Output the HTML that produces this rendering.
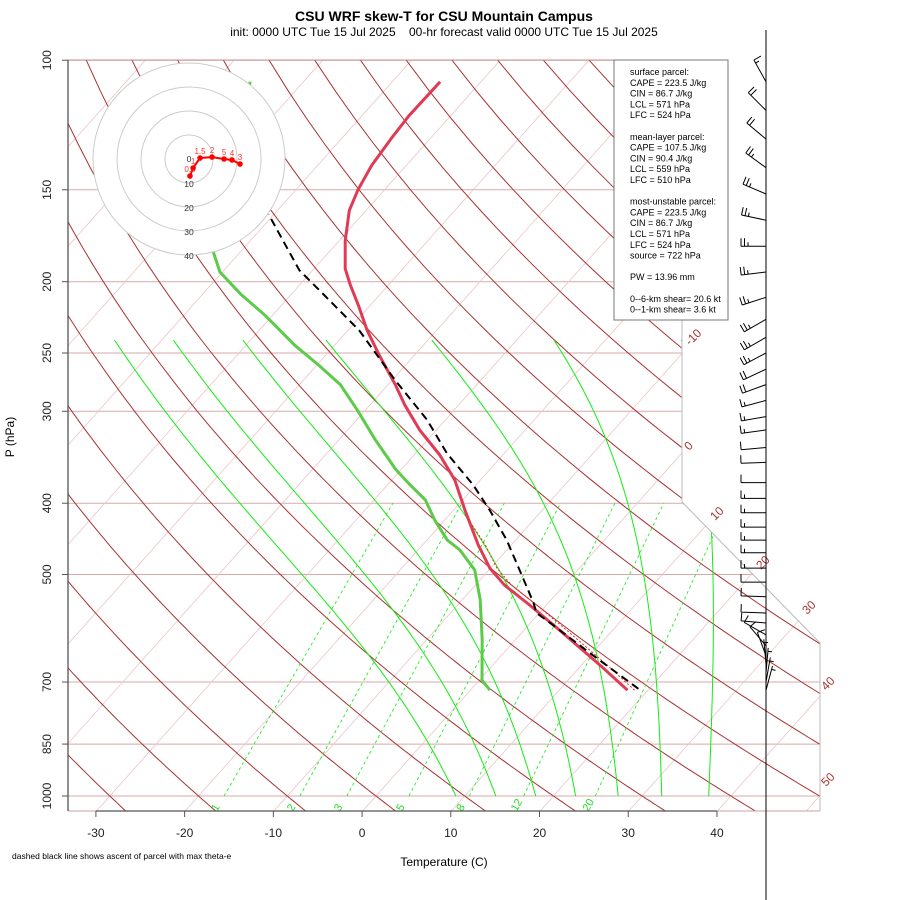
<!DOCTYPE html>
<html><head><meta charset="utf-8"><style>
html,body{margin:0;padding:0;background:#fff;}
svg{display:block;font-family:"Liberation Sans",Arial,sans-serif;}
</style></head><body>
<svg id="chart" width="900" height="900" viewBox="0 0 900 900" xmlns="http://www.w3.org/2000/svg">
<defs><clipPath id="plotclip"><polygon points="68,60 682,60 682,502 820,643 820,811 68,811"/></clipPath></defs>
<rect width="900" height="900" fill="#fff"/>
<text x="444" y="21" text-anchor="middle" font-size="14" font-weight="bold">CSU WRF skew-T for CSU Mountain Campus</text>
<text x="444" y="36" text-anchor="middle" font-size="12" style="white-space:pre" xml:space="preserve">init: 0000 UTC Tue 15 Jul 2025    00-hr forecast valid 0000 UTC Tue 15 Jul 2025</text>
<g id="grid" clip-path="url(#plotclip)"></g>
<g id="profiles" clip-path="url(#plotclip)"></g>
<polyline points="682,60 682,502 820,643 820,811" fill="none" stroke="#bbb" stroke-width="1"/>
<line x1="68" y1="60" x2="682" y2="60" stroke="#c89090" stroke-width="1"/>
<line x1="68" y1="811" x2="820" y2="811" stroke="#c8a0a0" stroke-width="1"/>
<line x1="68" y1="60" x2="68" y2="811" stroke="#555" stroke-width="1.3"/>
<line x1="96" y1="811" x2="717" y2="811" stroke="#555" stroke-width="1.3"/>
<g id="axes"></g>
<g id="hodo"></g>
<g id="isolabels"></g>
<line x1="766" y1="30" x2="766" y2="900" stroke="#000" stroke-width="1"/>
<g id="barbs"></g>
<g>
<rect x="614" y="60" width="114" height="260" fill="#fff" stroke="#777" stroke-width="1"/>
<g id="statstext" font-size="9" fill="#000"></g>
</g>
<text transform="translate(14,437) rotate(-90)" text-anchor="middle" font-size="12">P (hPa)</text>
<text x="444" y="866" text-anchor="middle" font-size="12">Temperature (C)</text>
<text x="12" y="859" font-size="8.5">dashed black line shows ascent of parcel with max theta-e</text>
</svg>
<script>
// ---- data ----
const tempP = [718,664,595,550,517,490,456,409,372,344,318,294,276,252,233,215,202,192,176,160,150,139,128,119,107];
const tempT = [17.7,12.1,4.0,-1.9,-6.7,-10.1,-13.7,-18.7,-22.9,-27.1,-31.9,-36.1,-39.2,-43.9,-47.8,-51.4,-54.3,-56.5,-59.3,-61.9,-63.0,-63.9,-64.4,-64.7,-64.6];
const dewP = [718,696,614,541,493,463,449,422,396,378,360,328,299,276,260,244,222,208,194,182,141,107];
const dewT = [2.2,0.3,-3.7,-8.0,-11.6,-15.3,-17.7,-21.1,-24.2,-27.4,-30.6,-35.9,-40.9,-45.4,-49.7,-54.5,-60.9,-65.7,-70.3,-73.1,-79.4,-86.0];
const parcelP = [715,639,586,564,546,504,449,409,378,342,308,272,233,212,193,162];
const parcelT = [18.8,9.7,2.8,-0.3,-1.7,-5.5,-11.0,-15.9,-20.3,-26.5,-32.1,-39.7,-48.7,-55.1,-61.5,-70.6];
const virtP = [718,664,595,550,517,490,456,420];
const virtT = [18.5,12.9,4.8,-1.1,-5.9,-9.3,-12.9,-17.5];
const windP = [107,117,128,140,152,165,179,194,210,225,238,250,263,276,290,305,318,336,352,375,394,412,431,449,467,490,512,536,564,582,604,625,645,662,680,700,718];
const windDir = [331,315,310,306,293,282,270,263,252,240,240,242,245,250,255,260,262,265,268,270,270,270,270,270,270,270,270,272,272,275,300,320,340,355,5,10,15];
const windSpd = [15,20,20,25,25,25,25,25,25,25,25,25,20,20,15,15,15,10,10,10,15,15,15,15,15,15,10,10,10,10,10,10,10,5,5,5,5];
const hodoU = [0.4,1.7,4.6,9.6,14.6,17.9,21.25];
const hodoV = [-7.1,-3.75,0.4,0.8,0,-0.4,-2.1];
const hodoLabels = ["0.5","1","1.5","2","5","4","3"];
const isobars = [100,150,200,250,300,400,500,700,850,1000];
const xTicks = [-30,-20,-10,0,10,20,30,40];
const mixRatios = [1,2,3,5,8,12,20];
const moistT0 = [9,13.5,18,22.5,27.3,32.2,37.5];
const isoLabelText = ["-10","0","10","20","30","40","50"];
const statsLines = ["surface parcel:","CAPE = 223.5 J/kg","CIN = 86.7 J/kg","LCL = 571 hPa","LFC = 524 hPa","","mean-layer parcel:","CAPE = 107.5 J/kg","CIN = 90.4 J/kg","LCL = 559 hPa","LFC = 510 hPa","","most-unstable parcel:","CAPE = 223.5 J/kg","CIN = 86.7 J/kg","LCL = 571 hPa","LFC = 524 hPa","source = 722 hPa","","PW =  13.96 mm","","0--6-km shear= 20.6 kt","0--1-km shear= 3.6 kt"];

// ---- axis functions ----
const NS="http://www.w3.org/2000/svg";
function ty(p){return 132.182-44.061*Math.log10(p);}
function X(T,p){return 376+(0.54*T+0.90692*ty(p))*16.43;}
function Y(p){return 796-ty(p)*16.70;}
function mk(tag,attrs,parent){const e=document.createElementNS(NS,tag);for(const k in attrs)e.setAttribute(k,attrs[k]);parent.appendChild(e);return e;}
function pts(arrP,arrT){return arrP.map((p,i)=>X(arrT[i],p).toFixed(1)+","+Y(p).toFixed(1)).join(" ");}
const grid=document.getElementById('grid');
isobars.forEach(p=>{const l=mk('line',{x1:68,x2:820,y1:Y(p),y2:Y(p),stroke:'#d9a9a9','stroke-width':1},grid);

});
for(let T=-120;T<=60;T+=10){const l=mk('line',{x1:X(T,1050),y1:Y(1050),x2:X(T,100),y2:Y(100),stroke:'#ebc6c6','stroke-width':0.8},grid);

}
for(let th=-30;th<=190;th+=10){let s=[];for(let p=1050;p>=100;p-=10){const T=(th+273.15)*Math.pow(p/1000,0.288)-273.15;s.push(X(T,p).toFixed(1)+","+Y(p).toFixed(1));}
const l=mk('polyline',{points:s.join(" "),fill:'none',stroke:'#a83232','stroke-width':1},grid);

}
function tdFromW(w,p){const e=w*p/(622+w);const l=Math.log(e/6.112);return 243.5*l/(17.67-l);}
mixRatios.forEach(w=>{const l=mk('line',{x1:X(tdFromW(w,1000),1000),y1:Y(1000),x2:X(tdFromW(w,400),400),y2:Y(400),stroke:'#22ee22','stroke-width':0.9,'stroke-dasharray':'3,3'},grid);


const x=X(tdFromW(w,1000),1000)-7;
const t=mk('text',{x:0,y:0,transform:`translate(${x.toFixed(1)},812) rotate(-60)`,'font-size':11,fill:'#22dd22'},grid);
t.textContent=w;

});
// moist adiabats (empirically damped latent heating to match reference diagram)
moistT0.forEach(t0=>{let T=t0+273.15;let s=[];for(let p=1000;p>=240;p-=5){s.push(X(T-273.15,p).toFixed(1)+","+Y(p).toFixed(1));
const es=6.112*Math.exp(17.67*(T-273.15)/(T-29.65));const rs=0.75*0.622*es/(p-es);
const dTdp=(287*T+2.5e6*rs)/(p*(1005+2.5e6*2.5e6*rs*0.622/(287*T*T)));T-=dTdp*5;}
const l=mk('polyline',{points:s.join(" "),fill:'none',stroke:'#11ee11','stroke-width':1},grid);

});
const prof=document.getElementById('profiles');
let e;
e=mk('polyline',{points:pts(dewP,dewT),fill:'none',stroke:'#5ccb4a','stroke-width':3,'stroke-linejoin':'round'},prof);


e=mk('polyline',{points:pts(tempP,tempT),fill:'none',stroke:'#e03a55','stroke-width':3,'stroke-linejoin':'round'},prof);


e=mk('polyline',{points:pts(virtP,virtT),fill:'none',stroke:'#ff2020','stroke-width':1,'stroke-dasharray':'2,2'},prof);


e=mk('polyline',{points:pts(parcelP,parcelT),fill:'none',stroke:'#000','stroke-width':2,'stroke-dasharray':'8,5'},prof);


const ax=document.getElementById('axes');
isobars.forEach(p=>{mk('line',{x1:62,x2:68,y1:Y(p),y2:Y(p),stroke:'#555'},ax);
const t=mk('text',{transform:`translate(51,${Y(p).toFixed(1)}) rotate(-90)`,'text-anchor':'middle','font-size':12,fill:'#222'},ax);
t.textContent=p;

});
xTicks.forEach(T=>{const x=X(T,1050);mk('line',{x1:x,x2:x,y1:811,y2:817,stroke:'#555'},ax);
const t=mk('text',{x:x,y:837,'text-anchor':'middle','font-size':12,fill:'#222'},ax);
t.textContent=T;

});
const ilp=[[690,346],[689,451],[715,521],[761,570],[807,615],[826,691],[826,787]];
const il=document.getElementById('isolabels');
isoLabelText.forEach((s,i)=>{const t=mk('text',{transform:`translate(${ilp[i][0]},${ilp[i][1]}) rotate(-45)`,'font-size':12,fill:'#a83232','text-anchor':'start'},il);
t.textContent=s;

});
const hg=document.getElementById('hodo');const hcx=189,hcy=159,hs=2.4;
mk('circle',{cx:hcx,cy:hcy,r:96,fill:'#fff',stroke:'#ccc'},hg);
[72,48,24].forEach(r=>mk('circle',{cx:hcx,cy:hcy,r:r,fill:'none',stroke:'#ccc'},hg));
[["0",0],["10",24],["20",48],["30",72],["40",96]].forEach(([s,r])=>{const t=mk('text',{x:hcx,y:r?hcy+r+4:hcy+3,'text-anchor':'middle','font-size':8.5,fill:'#333'},hg);
t.textContent=s;

});
e=mk('polyline',{points:hodoU.map((u,i)=>(hcx+u*hs).toFixed(1)+","+(hcy-hodoV[i]*hs).toFixed(1)).join(" "),fill:'none',stroke:'#f00','stroke-width':2},hg);


hodoU.forEach((u,i)=>{const c=mk('circle',{cx:hcx+u*hs,cy:hcy-hodoV[i]*hs,r:2.8,fill:'#f00'},hg);


const t=mk('text',{x:hcx+u*hs,y:hcy-hodoV[i]*hs-4,'text-anchor':'middle','font-size':8,fill:'#f33'},hg);
t.textContent=hodoLabels[i];

});
const bg=document.getElementById('barbs');
windP.forEach((p,i)=>{const d=windDir[i]*Math.PI/180,s=windSpd[i],L=25;const bx=766,by=Y(p);
const ux=Math.sin(d),uy=-Math.cos(d);const fx=Math.sin(d+Math.PI/2),fy=-Math.cos(d+Math.PI/2);
let path=`M${bx},${by.toFixed(1)} L${(bx+ux*L).toFixed(1)},${(by+uy*L).toFixed(1)}`;
let rem=s,k=0;
while(rem>=10){const px=bx+ux*(L-k*3.5),py=by+uy*(L-k*3.5);path+=` M${px.toFixed(1)},${py.toFixed(1)} l${(fx*8).toFixed(1)},${(fy*8).toFixed(1)}`;rem-=10;k++;}
if(rem>=5){if(k===0)k=1;const px=bx+ux*(L-k*3.5),py=by+uy*(L-k*3.5);path+=` M${px.toFixed(1)},${py.toFixed(1)} l${(fx*4).toFixed(1)},${(fy*4).toFixed(1)}`;}
const b=mk('path',{d:path,fill:'none',stroke:'#000','stroke-width':1},bg);

});
const st=document.getElementById('statstext');
statsLines.forEach((s,i)=>{if(!s)return;const t=mk('text',{x:630,y:75+i*10.8},st);t.textContent=s;
t.setAttribute('xml:space','preserve');

});
</script>
</body></html>
